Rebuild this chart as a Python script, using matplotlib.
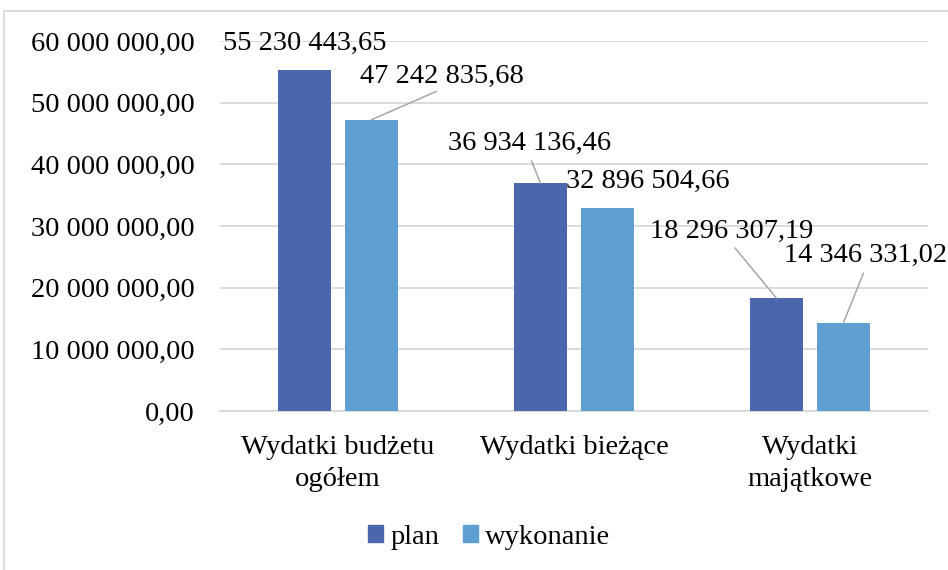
import numpy as np
import matplotlib
matplotlib.use('Agg')
import matplotlib.pyplot as plt
from matplotlib.patches import Patch, Rectangle

plt.rcParams['font.family'] = ['Liberation Serif', 'DejaVu Serif']

categories = ['Wydatki budżetu\nogółem', 'Wydatki bieżące', 'Wydatki\nmajątkowe']
plan = [55230443.65, 36934136.46, 18296307.19]
wykonanie = [47242835.68, 32896504.66, 14346331.02]
series_names = ['plan', 'wykonanie']
colors = ['#4A66AC', '#5F9ED1']

# label placement (pixel offsets from bar top centre) and whether a leader line is drawn
lab_off = [[(0, 27), (-11, 40), (-45, 67)],
           [(70, 43), (40, 27), (22, 67)]]
lab_leader = [[False, True, True],
              [True, False, True]]


def pl(v, pos=None):
    return f'{v:,.2f}'.replace(',', ' ').replace('.', ',')


W, H = 948, 570
fig = plt.figure(figsize=(W / 100, H / 100), dpi=100)
ax = fig.add_axes([220 / W, 1 - 411 / H, 708 / W, 370 / H])

fs = 20.5
x = np.arange(len(categories))
bw = 0.2246
off = 0.142
for i, (vals, c) in enumerate(zip([plan, wykonanie], colors)):
    xs = x + (-off if i == 0 else off)
    ax.bar(xs, vals, bw, color=c, zorder=3)
    for j, (xx, v) in enumerate(zip(xs, vals)):
        dx, dy = lab_off[i][j]
        ap = None
        if lab_leader[i][j]:
            ap = dict(arrowstyle='-', color='#A6A6A6', lw=1.1, relpos=(0.5, 0.0),
                      patchA=None, shrinkA=4, shrinkB=0)
        ax.annotate(pl(v), xy=(xx, v), xytext=(dx, dy), textcoords='offset pixels',
                    ha='center', va='center', fontsize=fs, color='black',
                    arrowprops=ap, annotation_clip=False, zorder=5)

ax.set_xlim(-0.5, 2.5)
ax.set_ylim(0, 60000000)
ax.set_yticks(np.arange(0, 60000001, 10000000))
ax.yaxis.set_major_formatter(plt.FuncFormatter(pl))
ax.set_xticks(x)
ax.set_xticklabels(categories, linespacing=1.35)
ax.tick_params(axis='y', length=0, pad=18.5, labelsize=fs)
ax.tick_params(axis='x', length=0, pad=17.5, labelsize=fs)
ax.grid(axis='y', color='#D9D9D9', lw=1.3, zorder=0)
for s in ['left', 'right', 'top']:
    ax.spines[s].set_visible(False)
ax.spines['bottom'].set_color('#D9D9D9')
ax.spines['bottom'].set_linewidth(1.3)

handles = [Patch(color=c) for c in colors]
fig.legend(handles, series_names, loc='center', bbox_to_anchor=(489 / W, 1 - 537 / H),
           ncol=2, frameon=False, fontsize=fs, handlelength=0.53, handleheight=0.53,
           handletextpad=0.25, columnspacing=0.84)

fig.patches.append(Rectangle((4 / W, -0.1), 1.2, 1 - 11 / H + 0.1, transform=fig.transFigure,
                             fill=False, edgecolor='#D9D9D9', lw=1.3))

plt.savefig('out.png', dpi=100)
